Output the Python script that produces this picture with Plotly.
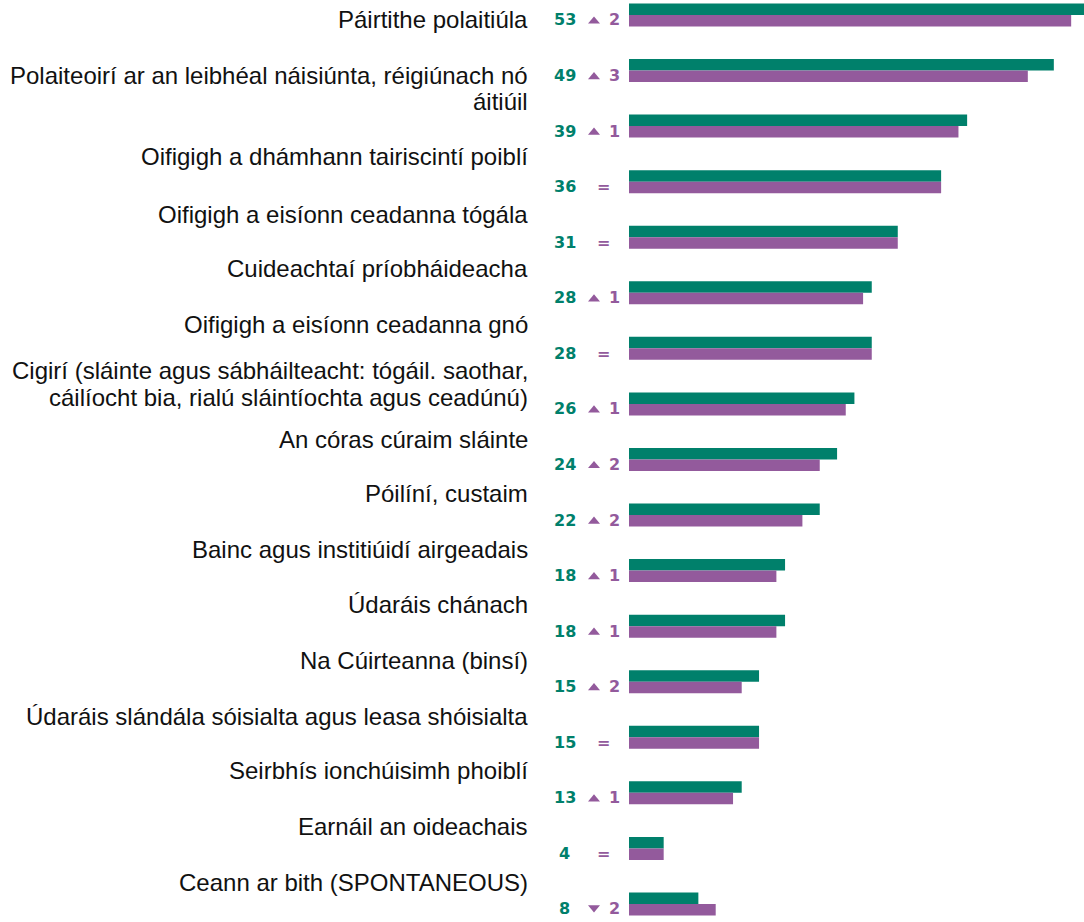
import plotly.graph_objects as go

# ---- data ----
labels = [
    "Páirtithe polaitiúla",
    "Polaiteoirí ar an leibhéal náisiúnta, réigiúnach nó<br>áitiúil",
    "Oifigigh a dhámhann tairiscintí poiblí",
    "Oifigigh a eisíonn ceadanna tógála",
    "Cuideachtaí príobháideacha",
    "Oifigigh a eisíonn ceadanna gnó",
    "Cigirí (sláinte agus sábháilteacht: tógáil. saothar,<br>cáilíocht bia, rialú sláintíochta agus ceadúnú)",
    "An córas cúraim sláinte",
    "Póilíní, custaim",
    "Bainc agus institiúidí airgeadais",
    "Údaráis chánach",
    "Na Cúirteanna (binsí)",
    "Údaráis slándála sóisialta agus leasa shóisialta",
    "Seirbhís ionchúisimh phoiblí",
    "Earnáil an oideachais",
    "Ceann ar bith (SPONTANEOUS)",
]
current = [53, 49, 39, 36, 31, 28, 28, 26, 24, 22, 18, 18, 15, 15, 13, 4, 8]
change = [2, 3, 1, 0, 0, 1, 0, 1, 2, 2, 1, 1, 2, 0, 1, 0, -2]
previous = [c - d for c, d in zip(current, change)]

# ---- layout / style ----
W, H = 1084, 922
PLOT_LEFT = 629
GREEN = "#00806B"
PURPLE = "#935A9C"
PX_PER_UNIT = 8.67
ROW_PITCH = 55.56
ROW0 = 15
BAR_W = 11.5 / ROW_PITCH
label_block_px = [20, 88, 157, 214, 269, 325, 384, 440, 493, 549, 604, 660, 716, 770, 826, 882]
LINE_PITCH = 26

rows = list(range(len(current)))
xmax = (W - PLOT_LEFT) / PX_PER_UNIT
y_top = -ROW0 / ROW_PITCH
y_bot = (H - ROW0) / ROW_PITCH

fig = go.Figure()
fig.add_trace(go.Bar(y=rows, x=current, orientation="h", width=BAR_W, offset=-BAR_W,
                     marker=dict(color=GREEN, line=dict(width=0)), showlegend=False,
                     hoverinfo="x"))
fig.add_trace(go.Bar(y=rows, x=previous, orientation="h", width=BAR_W, offset=0,
                     marker=dict(color=PURPLE, line=dict(width=0)), showlegend=False,
                     hoverinfo="x"))


def px2paper_x(px):
    return (px - PLOT_LEFT) / (W - PLOT_LEFT)


def px2paper_y(px):
    return 1 - px / H


annotations = []
shapes = []
num_font = dict(family="DejaVu Sans", size=16, color=GREEN)
chg_font = dict(family="DejaVu Sans", size=16, color=PURPLE)
TEXT_DY_PX = 5
TRI_CX, TRI_HW, TRI_HH = 594, 6, 3.6
for r, c, d in zip(rows, current, change):
    cy_px = ROW0 + r * ROW_PITCH + TEXT_DY_PX
    yp = px2paper_y(cy_px)
    annotations.append(dict(x=px2paper_x(564.5), xref="paper", y=yp, yref="paper",
                            text=f"<b>{c}</b>", showarrow=False, xanchor="center",
                            yanchor="middle", font=num_font))
    if d == 0:
        annotations.append(dict(x=px2paper_x(603), xref="paper", y=yp, yref="paper",
                                text="<b>=</b>", showarrow=False, xanchor="center",
                                yanchor="middle", font=chg_font))
    else:
        annotations.append(dict(x=px2paper_x(614.5), xref="paper", y=yp, yref="paper",
                                text=f"<b>{abs(d)}</b>", showarrow=False, xanchor="center",
                                yanchor="middle", font=chg_font))
        xl, xr, xm = (px2paper_x(TRI_CX - TRI_HW), px2paper_x(TRI_CX + TRI_HW),
                      px2paper_x(TRI_CX))
        if d > 0:
            yb, yt = px2paper_y(cy_px + TRI_HH), px2paper_y(cy_px - TRI_HH)
        else:
            yb, yt = px2paper_y(cy_px - TRI_HH), px2paper_y(cy_px + TRI_HH)
        shapes.append(dict(type="path", xref="paper", yref="paper",
                           path=f"M {xl},{yb} L {xr},{yb} L {xm},{yt} Z",
                           fillcolor=PURPLE, line=dict(width=0)))

lab_font = dict(family="Liberation Sans, Arial", size=24, color="#111111")
for lab, cy in zip(labels, label_block_px):
    lines = lab.split("<br>")
    n = len(lines)
    for i, ln in enumerate(lines):
        ypx = cy + (i - (n - 1) / 2) * LINE_PITCH
        annotations.append(dict(x=px2paper_x(530), xref="paper", y=px2paper_y(ypx),
                                yref="paper", text=ln, showarrow=False, xanchor="right",
                                yanchor="middle", font=lab_font))

fig.update_layout(
    width=W, height=H,
    margin=dict(l=PLOT_LEFT, r=0, t=0, b=0),
    paper_bgcolor="white", plot_bgcolor="white",
    barmode="overlay",
    xaxis=dict(range=[0, xmax], visible=False, fixedrange=True),
    yaxis=dict(range=[y_bot, y_top], visible=False, fixedrange=True),
    annotations=annotations,
    shapes=shapes,
)

fig.write_html(
    "out.html",
    config={"displayModeBar": False},
    post_script="document.body.style.margin='0';document.body.style.overflow='hidden';",
)
